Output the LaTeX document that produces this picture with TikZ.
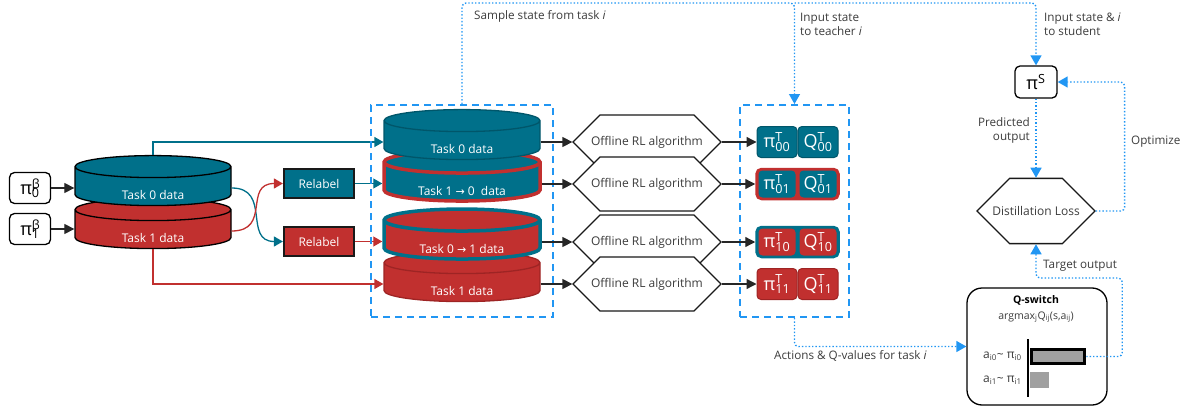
\documentclass[tikz,border=0pt]{standalone}
\usepackage{fontspec}
\setmainfont{Open Sans}
\newfontfamily\arrowfont{DejaVu Sans}
\usepackage{tikz}
\usetikzlibrary{arrows.meta,shapes.geometric,shapes.misc,positioning}
\definecolor{tteal}{RGB}{0,112,138}
\definecolor{tteald}{RGB}{0,86,106}
\definecolor{tred}{RGB}{193,48,47}
\definecolor{tredd}{RGB}{158,36,36}
\definecolor{tblue}{RGB}{33,150,243}
\definecolor{tgray}{RGB}{60,60,60}
\definecolor{bargray}{RGB}{160,160,160}
\newcommand{\supsub}[2]{\rlap{\textsuperscript{#1}}\textsubscript{#2}}
\newcommand{\tto}{{\arrowfont\fontsize{11}{12}\selectfont →}}

\begin{document}
\begin{tikzpicture}[x=1pt,y=-1pt,font=\fontsize{11.7}{14}\selectfont,
  db/.style={cylinder,shape border rotate=90,aspect=0.15,text width=140pt,minimum width=156pt,minimum height=50pt,line width=1.3pt,draw=black,
    label={[text=white,yshift=-7pt,font=\fontsize{12}{14}\selectfont]center:#1}},
  pibox/.style={draw,rounded corners=5pt,line width=1.3pt,fill=white,minimum width=41pt,minimum height=31pt,inner sep=0pt,font=\fontsize{18}{20}\selectfont},
  relabel/.style={draw=black!90,line width=2.2pt,minimum width=70pt,minimum height=29pt,text=white,font=\fontsize{12}{14}\selectfont},
  hexa/.style={chamfered rectangle,chamfered rectangle xsep=25pt,chamfered rectangle ysep=21pt,minimum width=148pt,minimum height=42pt,
    draw=black!90,line width=1.3pt,fill=white,text=tgray,inner sep=0pt,font=\fontsize{12}{14}\selectfont},
  tbox/.style={rounded corners=4pt,minimum width=40pt,minimum height=31pt,inner sep=0pt,text=white,font=\fontsize{18}{20}\selectfont},
  dashbox/.style={draw=tblue,line width=2pt,dash pattern=on 7pt off 5pt,inner sep=0pt},
  flow/.style={draw=tblue,line width=1.4pt,dotted,rounded corners=4pt,-{Triangle[length=10pt,width=11pt]}},
  feed/.style={draw=black!85,line width=1.3pt,-{Triangle[length=10pt,width=10pt]}},
  txt/.style={text=tgray,inner sep=1pt}]
\useasboundingbox (0,0) rectangle (1194,412);

\node[pibox] (pib0) at (30,188) {π\supsub{β}{0}};
\node[pibox] (pib1) at (30,229) {π\supsub{β}{1}};
\node[db=Task 1 data,fill=tred] (ld1) at (153,231) {};
\node[db=Task 0 data,fill=tteal] (ld0) at (153,188) {};
\draw[feed] (pib0.east) -- (ld0.west);
\draw[feed] (pib1.east) -- (pib1.east -| ld1.west);

\node[relabel,fill=tteal] (rl0) at (319,183.5) {Relabel};
\node[relabel,fill=tred] (rl1) at (319,241.5) {Relabel};
\draw[tteal,line width=1.3pt,-{Triangle[length=9pt,width=10pt]}] (ld0.east) .. controls +(40,0) and +(-40,0) .. (rl1.west);
\draw[tred,line width=1.3pt,-{Triangle[length=9pt,width=10pt]}] (ld1.east) .. controls +(40,0) and +(-40,0) .. (rl0.west);

\node[db=Task 1 \tto{} 0~ data,fill=tteal,draw=tred,line width=3.5pt] (mB) at (462,184) {};
\node[db=Task 0 data,fill=tteal,draw=tteald] (mA) at (462,142) {};
\node[db=Task 1 data,fill=tred,draw=tredd] (mD) at (462,284) {};
\node[db=Task 0 \tto{} 1 data,fill=tred,draw=tteal,line width=3.5pt] (mC) at (462,242) {};

\draw[tteal,line width=1.3pt,-{Triangle[length=9pt,width=10pt]}] (ld0.north) |- (mA.west);
\draw[tteal,line width=1.3pt,-{Triangle[length=9pt,width=10pt]}] (rl0.east) -- (rl0.east -| mB.west);
\draw[tred,line width=1.3pt,-{Triangle[length=9pt,width=10pt]}] (rl1.east) -- (rl1.east -| mC.west);
\draw[tred,line width=1.3pt,-{Triangle[length=9pt,width=10pt]}] (ld1.south) |- (mD.west);

\node[dashbox,minimum width=182pt,minimum height=212pt] (lbox) at (462,211) {};
\node[dashbox,minimum width=109pt,minimum height=212pt] (rbox) at (794.5,211) {};

\node[hexa] (alg0) at (647,142) {Offline RL algorithm};
\node[hexa] (alg1) at (647,184) {Offline RL algorithm};
\node[hexa] (alg2) at (647,242) {Offline RL algorithm};
\node[hexa] (alg3) at (647,284) {Offline RL algorithm};

\node[tbox,fill=tteal,draw=tteald,line width=1pt] (p00) at (777,142) {π\supsub{T}{00}};
\node[tbox,fill=tteal,draw=tteald,line width=1pt] (q00) at (818,142) {Q\supsub{T}{00}};
\node[draw=tred,fill=tred,line width=2.5pt,rounded corners=5pt,minimum width=82pt,minimum height=30pt] (t01) at (797.5,184) {};
\node[tbox,fill=tteal,minimum width=37pt,minimum height=27pt] (p01) at (777,184) {π\supsub{T}{01}};
\node[tbox,fill=tteal,minimum width=37pt,minimum height=27pt] (q01) at (818,184) {Q\supsub{T}{01}};
\node[draw=tteal,fill=tteal,line width=2.5pt,rounded corners=5pt,minimum width=82pt,minimum height=30pt] (t10) at (797.5,242) {};
\node[tbox,fill=tred,minimum width=37pt,minimum height=27pt] (p10) at (777,242) {π\supsub{T}{10}};
\node[tbox,fill=tred,minimum width=37pt,minimum height=27pt] (q10) at (818,242) {Q\supsub{T}{10}};
\node[tbox,fill=tred,draw=tredd,line width=1pt] (p11) at (777,284) {π\supsub{T}{11}};
\node[tbox,fill=tred,draw=tredd,line width=1pt] (q11) at (818,284) {Q\supsub{T}{11}};

\draw[feed] (mA.east) -- (alg0.west);
\draw[feed] (mB.east) -- (alg1.west);
\draw[feed] (mC.east) -- (alg2.west);
\draw[feed] (mD.east) -- (alg3.west);
\draw[feed] (alg0.east) -- (p00.west);
\draw[feed] (alg1.east) -- (t01.west);
\draw[feed] (alg2.east) -- (t10.west);
\draw[feed] (alg3.east) -- (p11.west);

\node[draw,rounded corners=5pt,line width=1.3pt,minimum width=42pt,minimum height=32pt,inner sep=0pt,font=\fontsize{18}{20}\selectfont] (piS) at (1036,82) {π\textsuperscript{S}};
\node[chamfered rectangle,chamfered rectangle xsep=13pt,chamfered rectangle ysep=28pt,minimum width=118pt,minimum height=56pt,
  draw=black!90,line width=1.3pt,text=tgray,inner sep=0pt,font=\fontsize{12}{14}\selectfont] (loss) at (1036,211) {Distillation Loss};
\node[draw,rounded corners=15pt,line width=1.3pt,minimum width=140pt,minimum height=117pt] (qs) at (1037,346.5) {};
\node[font=\fontsize{10.5}{12}\selectfont\bfseries] (qstitle) at (1036,300) {Q-switch};
\node[txt,font=\fontsize{10.5}{12}\selectfont] (qsform) at (1036,317) {argmax\textsubscript{j}Q\textsubscript{ij}(s,a\textsubscript{ij})};
\draw[line width=1.5pt] (1028,339) -- (1028,397);
\node[draw,line width=3.5pt,fill=bargray,minimum width=53pt,minimum height=14pt,inner sep=0pt] (bar0) at (1058,356.5) {};
\node[fill=bargray,minimum width=19pt,minimum height=16pt,inner sep=0pt] (bar1) at (1039.5,380) {};
\node[txt,anchor=east,font=\fontsize{12}{14}\selectfont] (act0) at (1023,356) {a\textsubscript{i0}\textasciitilde{} π\textsubscript{i0}};
\node[txt,anchor=east,font=\fontsize{12}{14}\selectfont] (act1) at (1023,380) {a\textsubscript{i1}\textasciitilde{} π\textsubscript{i1}};

\coordinate (split) at (794.5,3);
\draw[flow] (lbox.north) |- (split) -- (rbox.north);
\draw[flow] (split) -| (piS.north);
\draw[flow] (piS.south) -- (loss.north);
\draw[flow] (loss.east) -- ++(29,0) |- (piS.east);
\draw[flow] (bar0.east) -- ++(36,0) |- (loss.south |- 0,278) -- (loss.south);
\draw[flow] (rbox.south) |- (qs.west);

\node[txt,anchor=west] (lsample) at (473,16) {Sample state from task \textit{i}};
\node[txt,anchor=west,align=left] (lteacher) at (799,24) {Input state\\to teacher \textit{i}};
\node[txt,anchor=west,align=left] (lstudent) at (1043,24) {Input state \& \textit{i}\\to student};
\node[txt,anchor=east,align=right] (lpred) at (1031,130) {Predicted\\output};
\node[txt,anchor=west] (lopt) at (1130,142) {Optimize};
\node[txt,anchor=west] (ltarget) at (1042,266) {Target output};
\node[txt,anchor=west] (lactions) at (773,356) {Actions \& Q-values for task \textit{i}};
\end{tikzpicture}
\end{document}
